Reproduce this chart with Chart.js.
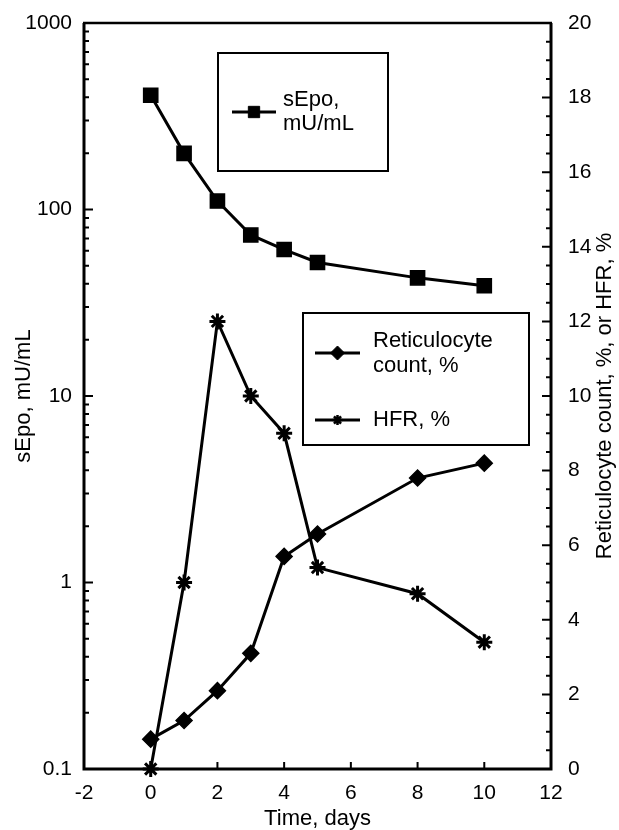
<!DOCTYPE html>
<html>
<head>
<meta charset="utf-8">
<script src="https://cdn.jsdelivr.net/npm/chart.js@4/dist/chart.umd.min.js"></script>
<style>
  html, body { margin: 0; padding: 0; background: #fff; }
  #chart { display: block; }
</style>
</head>
<body>
<canvas id="chart" width="619" height="830"></canvas>
<script>
// waarden
const days = [0, 1, 2, 3, 4, 5, 8, 10];
const sEpo = [410, 200, 111, 73, 61, 52, 43, 39];
const reticulocyte = [0.8, 1.3, 2.1, 3.1, 5.7, 6.3, 7.8, 8.2];
const hfr = [0, 5, 12, 10, 9, 5.4, 4.7, 3.4];

const xTicks = [-2, 0, 2, 4, 6, 8, 10, 12];
const leftTicks = [0.1, 1, 10, 100, 1000];
const rightTicks = [0, 2, 4, 6, 8, 10, 12, 14, 16, 18, 20];

const FONT = '"Liberation Sans", Arial, Helvetica, sans-serif';

function toPoints(ys) {
    return days.map((d, i) => ({ x: d, y: ys[i] }));
}

// frame, inward tick marks, right title and the two legend boxes
const framePlugin = {
    id: 'frame',
    afterDatasetsDraw(chart) {
        const ctx = chart.ctx;
        const a = chart.chartArea;
        const sx = chart.scales.x, sl = chart.scales.y, sr = chart.scales.y2;
        ctx.save();
        ctx.strokeStyle = '#000';
        ctx.lineCap = 'butt';

        // ticks left (log)
        ctx.lineWidth = 2;
        ctx.beginPath();
        leftTicks.forEach(v => {
            const y = sl.getPixelForValue(v);
            ctx.moveTo(a.left - 1, y); ctx.lineTo(a.left + 9, y);
        });
        for (let d = 0.1; d < 1000; d *= 10) {
            for (let m = 2; m <= 9; m++) {
                const y = sl.getPixelForValue(d * m);
                ctx.moveTo(a.left, y); ctx.lineTo(a.left + 5, y);
            }
        }
        // ticks right
        for (let v = 0; v <= 20; v += 0.5) {
            const y = sr.getPixelForValue(v);
            const len = (v % 2 === 0) ? 9 : 5;
            ctx.moveTo(a.right + 1, y); ctx.lineTo(a.right - len, y);
        }
        // ticks bottom
        xTicks.forEach(v => {
            const x = sx.getPixelForValue(v);
            ctx.moveTo(x, a.bottom); ctx.lineTo(x, a.bottom - 7);
        });
        ctx.stroke();

        // box
        ctx.lineWidth = 3;
        ctx.beginPath();
        ctx.moveTo(a.left, a.top);
        ctx.lineTo(a.left, a.bottom);
        ctx.lineTo(a.right, a.bottom);
        ctx.lineTo(a.right, a.top);
        ctx.stroke();
        ctx.lineWidth = 2.5;
        ctx.beginPath();
        ctx.moveTo(a.left - 1, a.top);
        ctx.lineTo(a.right + 1, a.top);
        ctx.stroke();

        // right axis title, reads bottom to top
        ctx.fillStyle = '#000';
        ctx.font = '22px ' + FONT;
        ctx.textAlign = 'center';
        ctx.textBaseline = 'middle';
        ctx.translate(605, (a.top + a.bottom) / 2);
        ctx.rotate(-Math.PI / 2);
        ctx.fillText('Reticulocyte count, %, or HFR, %', 0, 0);
        ctx.restore();

        drawLegend(ctx, [218, 53, 388, 171], [
            { style: 'rect', r: 8, bw: 1, lineY: 112, x0: 232, x1: 276, textX: 283, lines: [['sEpo,', 100], ['mU/mL', 124]] }
        ]);
        drawLegend(ctx, [303, 313, 529, 445], [
            { style: 'rectRot', r: 7, bw: 1, lineY: 353, x0: 315, x1: 360, textX: 373, lines: [['Reticulocyte', 341], ['count, %', 366]] },
            { style: 'star', r: 5, bw: 2.5, lineY: 420, x0: 315, x1: 360, textX: 373, lines: [['HFR, %', 420]] }
        ]);
    }
};

function drawLegend(ctx, box, items) {
    ctx.save();
    ctx.fillStyle = '#fff';
    ctx.fillRect(box[0], box[1], box[2] - box[0], box[3] - box[1]);
    ctx.strokeStyle = '#000';
    ctx.lineWidth = 2;
    ctx.strokeRect(box[0], box[1], box[2] - box[0], box[3] - box[1]);
    items.forEach(it => {
        ctx.lineWidth = 3;
        ctx.beginPath();
        ctx.moveTo(it.x0, it.lineY);
        ctx.lineTo(it.x1, it.lineY);
        ctx.stroke();
        ctx.fillStyle = '#000';
        ctx.lineWidth = it.bw;
        Chart.helpers.drawPoint(ctx, { pointStyle: it.style, radius: it.r, borderWidth: it.bw, rotation: 0 }, (it.x0 + it.x1) / 2, it.lineY);
        ctx.font = '22px ' + FONT;
        ctx.textAlign = 'left';
        ctx.textBaseline = 'middle';
        it.lines.forEach(l => ctx.fillText(l[0], it.textX, l[1]));
    });
    ctx.restore();
}

const tickFont = { family: FONT, size: 21 };
const titleFont = { family: FONT, size: 22, lineHeight: 1 };

const common = {
    borderColor: '#000',
    backgroundColor: '#000',
    pointBackgroundColor: '#000',
    pointBorderColor: '#000',
    borderWidth: 3,
    tension: 0,
    clip: false
};

// vaste breedtes; tick padding mag de bovenkant niet opschuiven
function fixWidth(w) {
    return s => { s.width = w; s.paddingTop = 0; s.paddingBottom = 0; };
}

new Chart(document.getElementById('chart'), {
    type: 'line',
    data: {
        datasets: [
            { ...common, label: 'sEpo, mU/mL', data: toPoints(sEpo), yAxisID: 'y',
              pointStyle: 'rect', pointRadius: 10, pointBorderWidth: 1.5 },
            { ...common, label: 'Reticulocyte count, %', data: toPoints(reticulocyte), yAxisID: 'y2',
              pointStyle: 'rectRot', pointRadius: 8, pointBorderWidth: 1.5 },
            { ...common, label: 'HFR, %', data: toPoints(hfr), yAxisID: 'y2',
              pointStyle: 'star', pointRadius: 8, pointBorderWidth: 3 }
        ]
    },
    options: {
        responsive: false,
        devicePixelRatio: 1,
        animation: false,
        layout: { autoPadding: false, padding: { top: 23, left: 0, right: 0, bottom: 0 } },
        plugins: { legend: { display: false }, tooltip: { enabled: false } },
        scales: {
            x: {
                type: 'linear', min: -2, max: 12,
                afterBuildTicks: s => { s.ticks = xTicks.map(v => ({ value: v })); },
                afterFit: s => { s.height = 61; },
                grid: { display: false, drawTicks: false },
                border: { display: false },
                ticks: { font: tickFont, color: '#000', padding: 12, maxRotation: 0 },
                title: { display: true, text: 'Time, days', font: titleFont, color: '#000', padding: { top: 0, bottom: 0 } }
            },
            y: {
                type: 'logarithmic', position: 'left', min: 0.1, max: 1000,
                afterBuildTicks: s => { s.ticks = leftTicks.map(v => ({ value: v })); },
                afterFit: fixWidth(84),
                grid: { display: false, drawTicks: false },
                border: { display: false },
                ticks: { font: tickFont, color: '#000', padding: 12, callback: v => String(v) },
                title: { display: true, text: 'sEpo, mU/mL', font: titleFont, color: '#000', padding: { top: 13, bottom: 0 } }
            },
            y2: {
                type: 'linear', position: 'right', min: 0, max: 20,
                afterBuildTicks: s => { s.ticks = rightTicks.map(v => ({ value: v })); },
                afterFit: fixWidth(68),
                grid: { display: false, drawTicks: false },
                border: { display: false },
                ticks: { font: tickFont, color: '#000', padding: 17 }
            }
        }
    },
    plugins: [framePlugin]
});
</script>
</body>
</html>
